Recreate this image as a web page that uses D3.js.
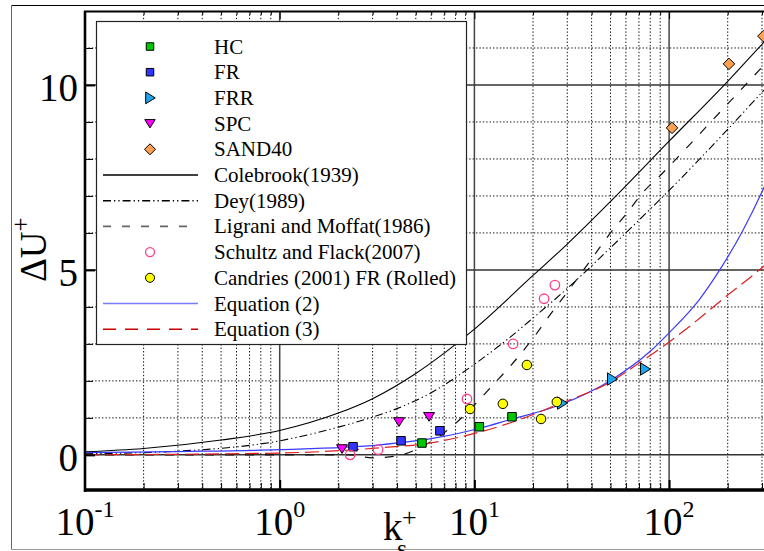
<!DOCTYPE html>
<html><head><meta charset="utf-8">
<script src="https://cdn.jsdelivr.net/npm/d3@7"></script>
<style>
body{margin:0;background:#fff}
svg{display:block}
text{font-family:"Liberation Serif","Times New Roman",serif;fill:#000}
</style>
</head><body>
<svg id="chart" width="764" height="551"></svg>
<script>
// ---------- data ----------
const hcK  = [5.38, 10.6, 15.6];            const hcU  = [0.32, 0.76, 1.03];
const frK  = [2.38, 4.2, 6.65];             const frU  = [0.22, 0.38, 0.65];
const frrK = [28.2, 50.9, 75.2];            const frrU = [1.40, 2.05, 2.32];
const spcK = [2.09, 4.1, 5.85];             const spcU = [0.16, 0.89, 1.03];
const sandK = [103.5, 203, 305];            const sandU = [8.84, 10.57, 11.32];
const schK = [2.3, 3.2, 9.16, 15.8, 22.8, 25.9];  const schU = [0.0, 0.14, 1.51, 3.0, 4.22, 4.59];
const canK = [9.5, 14.0, 18.6, 22.0, 26.5]; const canU = [1.24, 1.38, 2.43, 0.97, 1.43];

const colebrookK = [0.1, 0.2, 0.5, 1, 2, 3, 5, 7, 10, 20, 30, 50, 100, 200, 300, 500];
const colebrookU = [0.08, 0.17, 0.4, 0.66, 1.13, 1.52, 2.2, 2.75, 3.4, 4.85, 5.7, 6.85, 8.48, 10.1, 11.1, 12.3];
const deyK = [0.1, 0.3, 1, 2, 3, 4, 6, 10, 15, 20, 30, 50, 75, 100, 200, 300, 500];
const deyU = [0.03, 0.1, 0.38, 0.75, 1.02, 1.25, 1.68, 2.45, 3.15, 3.7, 4.5, 5.6, 6.5, 7.15, 8.8, 9.8, 11.0];
const ligK = [0.1, 2.25, 3, 4, 5, 6, 7, 8, 10, 12.5, 15, 20, 25, 30, 40, 50, 60, 75, 90, 100, 200, 300, 500];
const ligU = [0, 0, -0.08, -0.03, 0.14, 0.36, 0.6, 0.85, 1.35, 1.9, 2.35, 3.15, 3.85, 4.4, 5.3, 6.0, 6.5, 7.15, 7.55, 7.8, 9.49, 10.48, 11.73];
const eq2K = [0.1, 0.3, 1, 3.27, 5.9, 10.7, 15.2, 26.5, 51, 80, 100, 144, 182, 240, 303, 330];
const eq2U = [0.06, 0.09, 0.14, 0.27, 0.43, 0.72, 0.95, 1.32, 2.04, 2.8, 3.3, 4.22, 5.0, 6.08, 7.16, 7.6];
const eq3K = [0.1, 1, 3.27, 5.9, 10.7, 15.2, 26.5, 51, 70, 100, 144, 198, 303, 330];
const eq3U = [0, 0.05, 0.19, 0.32, 0.62, 0.86, 1.35, 2.0, 2.48, 3.05, 3.7, 4.3, 5.08, 5.25];

const yMajor = [0, 5, 10];
const yMinor = [1, 2, 3, 4, 6, 7, 8, 9, 11];
const xMajorExp = [-1, 0, 1, 2];
const legendLabels = ["HC", "FR", "FRR", "SPC", "SAND40", "Colebrook(1939)", "Dey(1989)",
  "Ligrani and Moffat(1986)", "Schultz and Flack(2007)", "Candries (2001) FR (Rolled)", "Equation (2)", "Equation (3)"];

// ---------- setup ----------
const svg = d3.select("#chart");
const L = 85, T = 11, B = 490;
const R = L + 194.7 * Math.log10(5000);
const x = d3.scaleLog().domain([0.1, 500]).range([L, R]);
const y = d3.scaleLinear().domain([-0.95, 12]).range([B, T]);

// outer frame
svg.append("line").attr("x1", 11.5).attr("x2", 764).attr("y1", 5.5).attr("y2", 5.5).attr("stroke", "#000");
svg.append("line").attr("x1", 11.5).attr("x2", 11.5).attr("y1", 5.5).attr("y2", 549.5).attr("stroke", "#666");
svg.append("line").attr("x1", 11.5).attr("x2", 764).attr("y1", 549.5).attr("y2", 549.5).attr("stroke", "#999");

// grid
const xMinor = [];
[-1, 0, 1, 2].forEach(e => { for (let m = 2; m <= 9; m++) { const v = m * Math.pow(10, e); if (v <= 500) xMinor.push(v); } });
const xMajor = [1, 10, 100];
const grid = svg.append("g");
grid.selectAll(".gxm").data(xMinor).join("line")
  .attr("x1", d => x(d)).attr("x2", d => x(d)).attr("y1", T).attr("y2", B)
  .attr("stroke", "#111").attr("stroke-width", 1).attr("stroke-dasharray", "1.4,2");
grid.selectAll(".gym").data(yMinor).join("line")
  .attr("x1", L).attr("x2", R).attr("y1", d => y(d)).attr("y2", d => y(d))
  .attr("stroke", "#111").attr("stroke-width", 1).attr("stroke-dasharray", "1.4,2");
grid.selectAll(".gxM").data(xMajor).join("line")
  .attr("x1", d => x(d)).attr("x2", d => x(d)).attr("y1", T).attr("y2", B)
  .attr("stroke", "#444").attr("stroke-width", 1.5);
grid.selectAll(".gyM").data(yMajor).join("line")
  .attr("x1", L).attr("x2", R).attr("y1", d => y(d)).attr("y2", d => y(d))
  .attr("stroke", "#333").attr("stroke-width", 1.5);

// curves
svg.append("clipPath").attr("id", "clip").append("rect")
  .attr("x", L).attr("y", T).attr("width", R - L).attr("height", B - T);
const line = d3.line().x(d => x(d[0])).y(d => y(d[1])).curve(d3.curveMonotoneX);
const curves = svg.append("g").attr("clip-path", "url(#clip)");
function curve(K, U, stroke, w, dash) {
  curves.append("path").datum(d3.zip(K, U)).attr("d", line)
    .attr("fill", "none").attr("stroke", stroke).attr("stroke-width", w)
    .attr("stroke-dasharray", dash);
}
curve(colebrookK, colebrookU, "#000", 1.1, null);
curve(deyK, deyU, "#000", 1.1, "8,3,1.3,3,1.3,3");
curve(ligK, ligU, "#111", 1.2, "9,11");
curve(eq2K, eq2U, "#3a3aff", 1.2, null);
curve(eq3K, eq3U, "#e02020", 1.2, "14,6");

// marker shapes
const shapes = {
  square: (s) => `M${-s/2},${-s/2}h${s}v${s}h${-s}Z`,
  right: (s) => `M${-s*0.45},${-s*0.62}L${s*0.55},0L${-s*0.45},${s*0.62}Z`,
  down: (s) => `M${-s*0.55},${-s*0.42}L${s*0.55},${-s*0.42}L0,${s*0.45}Z`,
  diamond: (s) => `M0,${-s/2}L${s/2},0L0,${s/2}L${-s/2},0Z`,
  circle: (s) => d3.symbol(d3.symbolCircle, Math.PI * s * s / 4)()
};
const series = [
  {K: hcK, U: hcU, shape: "square", size: 8.5, fill: "#00c800", stroke: "#000"},
  {K: frK, U: frU, shape: "square", size: 8.5, fill: "#3333ff", stroke: "#000"},
  {K: frrK, U: frrU, shape: "right", size: 10, fill: "#1ea5f0", stroke: "#000"},
  {K: spcK, U: spcU, shape: "down", size: 10, fill: "#ff00ff", stroke: "#000"},
  {K: sandK, U: sandU, shape: "diamond", size: 11.5, fill: "#ffa050", stroke: "#000"},
  {K: schK, U: schU, shape: "circle", size: 9.5, fill: "none", stroke: "#ff3d8c"},
  {K: canK, U: canU, shape: "circle", size: 9.5, fill: "#ffff00", stroke: "#000"}
];
const pts = svg.append("g");
series.forEach(s => {
  pts.selectAll(null).data(d3.zip(s.K, s.U)).join("path")
    .attr("transform", d => `translate(${x(d[0])},${y(d[1])})`)
    .attr("d", shapes[s.shape](s.size))
    .attr("fill", s.fill).attr("stroke", s.stroke).attr("stroke-width", s.fill === "none" ? 1.3 : 1);
});

// axes (ticks via d3 axes)
const axL = d3.axisRight(y).tickValues(yMajor).tickSize(10).tickFormat("");
const axLm = d3.axisRight(y).tickValues(yMinor).tickSize(8).tickFormat("");
const gL = svg.append("g").attr("transform", `translate(${L},0)`).call(axL);
gL.selectAll("line").attr("stroke-width", 2);
svg.append("g").attr("transform", `translate(${L},0)`).call(axLm);
const axB = d3.axisTop(x).tickValues(xMajor).tickSize(10).tickFormat("");
const axBm = d3.axisTop(x).tickValues(xMinor).tickSize(7).tickFormat("");
svg.append("g").attr("transform", `translate(0,${B})`).call(axB).selectAll("line").attr("stroke-width", 2);
svg.append("g").attr("transform", `translate(0,${B})`).call(axBm);
const axT = d3.axisBottom(x).tickValues(xMajor).tickSize(8).tickFormat("");
const axTm = d3.axisBottom(x).tickValues(xMinor).tickSize(4).tickFormat("");
svg.append("g").attr("transform", `translate(0,${T})`).call(axT);
svg.append("g").attr("transform", `translate(0,${T})`).call(axTm);
svg.selectAll(".domain").remove();
// axis frame lines
svg.append("line").attr("x1", L).attr("x2", L).attr("y1", T).attr("y2", B + 2).attr("stroke", "#000").attr("stroke-width", 2.6);
svg.append("line").attr("x1", L - 1).attr("x2", R).attr("y1", T + 0.5).attr("y2", T + 0.5).attr("stroke", "#000").attr("stroke-width", 2);
svg.append("line").attr("x1", L - 1).attr("x2", R).attr("y1", B).attr("y2", B).attr("stroke", "#000").attr("stroke-width", 3.6);

// tick labels
svg.selectAll(".ylab").data(yMajor).join("text")
  .attr("x", 78).attr("y", d => y(d) + 16).attr("text-anchor", "end")
  .attr("font-size", 39).text(d => d);
const xl = svg.selectAll(".xlab").data(xMajorExp).join("text")
  .attr("x", d => x(Math.pow(10, d))).attr("y", 535).attr("text-anchor", "middle").attr("font-size", 39);
xl.append("tspan").text("10");
xl.append("tspan").attr("dy", -18).attr("font-size", 24).text(d => d);

// axis titles
const yt = svg.append("text").attr("transform", "translate(46,282) rotate(-90)").attr("font-size", 37);
yt.append("tspan").text("ΔU");
yt.append("tspan").attr("dy", -17).attr("font-size", 25).text("+");
svg.append("text").attr("x", 383).attr("y", 540).attr("font-size", 39).text("k");
svg.append("text").attr("x", 397).attr("y", 557).attr("font-size", 26).text("s");
svg.append("text").attr("x", 402).attr("y", 526).attr("font-size", 26).text("+");

// legend
const lg = svg.append("g");
lg.append("rect").attr("x", 96.5).attr("y", 21.5).attr("width", 370).attr("height", 323)
  .attr("fill", "#fff").attr("stroke", "#222").attr("stroke-width", 1.2);
const rowY = i => 46.5 + i * 25.7;
const legendItems = [
  {m: series[0]}, {m: series[1]}, {m: series[2]}, {m: series[3]}, {m: series[4]},
  {l: {stroke: "#000", dash: null}},
  {l: {stroke: "#000", dash: "8,3,1.3,3,1.3,3"}},
  {l: {stroke: "#666", dash: "8,11"}},
  {m: series[5]}, {m: series[6]},
  {l: {stroke: "#7a7aff", dash: null}},
  {l: {stroke: "#cc0000", dash: "13,9"}}
];
legendItems.forEach((it, i) => {
  const yy = rowY(i);
  if (it.m) {
    const s = it.m;
    const sz = s.shape === "square" ? 7.5 : s.shape === "diamond" ? 11 : s.shape === "circle" ? 9 : 9.5;
    lg.append("path").attr("transform", `translate(150,${yy})`).attr("d", shapes[s.shape](sz))
      .attr("fill", s.fill).attr("stroke", s.stroke).attr("stroke-width", s.fill === "none" ? 1.3 : 1);
  } else {
    lg.append("line").attr("x1", 103).attr("x2", 198).attr("y1", yy).attr("y2", yy)
      .attr("stroke", it.l.stroke).attr("stroke-width", 1.6).attr("stroke-dasharray", it.l.dash);
  }
  lg.append("text").attr("x", 214).attr("y", yy + 7).attr("font-size", 21).text(legendLabels[i]);
});
</script>
</body></html>
